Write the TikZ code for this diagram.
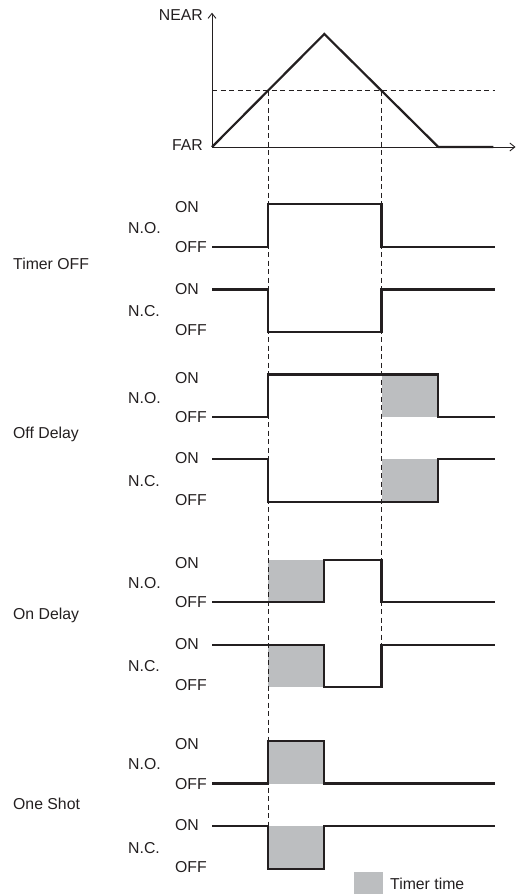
\documentclass[tikz,border=0pt]{standalone}
\usepackage{fontspec}
\setmainfont{Liberation Sans}
\usetikzlibrary{arrows.meta}
\definecolor{ink}{HTML}{231F20}
\definecolor{shadegray}{HTML}{BCBEC0}
\tikzset{
  lbl/.style={font=\fontsize{15.8}{18}\selectfont, text=ink, inner sep=0pt, anchor=base west},
  sig/.style={draw=ink, line width=2.2pt, line join=miter},
  axis/.style={draw=ink, line width=0.9pt},
  guide/.style={draw=ink, line width=0.9pt, dash pattern=on 5pt off 3.5pt},
  timerfill/.style={fill=shadegray, draw=none},
  arr/.style={-{Straight Barb[length=5pt,width=8pt]}}
}
% #1 a, #2 b, #3 c, #4 d (levels), #5 title, #6 prefix, #7 title centre y
\newcommand\mysect[7]{%
  \node[lbl] (#6-noon)  at (175,{#1+8.6}) {ON};
  \node[lbl] (#6-no)    at (128,{(#1+#2)/2+7.6}) {N.O.};
  \node[lbl] (#6-nooff) at (175,{#2+5.6}) {OFF};
  \node[lbl] (#6-ncon)  at (175,{#3+4.6}) {ON};
  \node[lbl] (#6-nc)    at (128,{(#3+#4)/2+5.6}) {N.C.};
  \node[lbl] (#6-ncoff) at (175,{#4+3.6}) {OFF};
  \node[lbl] (#6-title) at (13,{#7+5.6}) {#5};
}
\def\myxs{212}
\def\myxe{495}
\def\myta{268}
\def\mytb{324.3}
\def\mytc{381.5}
\def\mytd{438.3}
\begin{document}
\begin{tikzpicture}[x=1pt,y=-1pt]
\useasboundingbox (0,0) rectangle (516,894);

% ---------- top graph ----------
\coordinate (O) at (\myxs,147);
\coordinate (ytip) at (\myxs,12.7);
\coordinate (xtip) at (515.5,147);
\coordinate (peak) at (\mytb,34);
\coordinate (tend) at (\mytd,147);
\coordinate (fend) at (493.3,147);
\coordinate (thL) at (\myxs,90.7);
\coordinate (thR) at (\myxe,90.7);
\coordinate (c1) at (\myta,90.7);
\coordinate (c2) at (\mytc,90.7);
\coordinate (c1b) at (\myta,869);
\coordinate (c2b) at (\mytc,687);

\node[lbl, anchor=base east] (near) at (203,20.6) {NEAR};
\node[lbl, anchor=base east] (far) at (203,150.6) {FAR};

% shaded timer areas
\fill[timerfill] (\mytc,374.5) rectangle (\mytd,417);
\fill[timerfill] (\mytc,459) rectangle (\mytd,502);
\fill[timerfill] (\myta,560) rectangle (\mytb,602);
\fill[timerfill] (\myta,645) rectangle (\mytb,687);
\fill[timerfill] (\myta,741) rectangle (\mytb,783.5);
\fill[timerfill] (\myta,826) rectangle (\mytb,869);

% guides
\draw[guide] (thL) -- (thR);
\draw[guide] (c1) -- (c1b);
\draw[guide] (c2) -- (c2b);

% axes
\draw[axis, arr] (O) -- (ytip);
\draw[axis, arr] (O) -- (xtip);
\draw[sig] (O) -- (peak) -- (tend) -- (fend);

% ---------- Timer OFF ----------
\mysect{204}{247}{289.5}{332}{Timer OFF}{to}{264}
\draw[sig] (\myxs,247) -| (\myta,204) -| (\mytc,247) -- (\myxe,247);
\draw[sig] (\myxs,289.5) -| (\myta,332) -| (\mytc,289.5) -- (\myxe,289.5);

% ---------- Off Delay ----------
\mysect{374.5}{417}{459}{502}{Off Delay}{od}{433}
\draw[sig] (\myxs,417) -| (\myta,374.5) -| (\mytd,417) -- (\myxe,417);
\draw[sig] (\myxs,459) -| (\myta,502) -| (\mytd,459) -- (\myxe,459);

% ---------- On Delay ----------
\mysect{560}{602}{645}{687}{On Delay}{ond}{613.5}
\draw[sig] (\myxs,602) -| (\mytb,560) -| (\mytc,602) -- (\myxe,602);
\draw[sig] (\myxs,645) -| (\mytb,687) -| (\mytc,645) -- (\myxe,645);

% ---------- One Shot ----------
\mysect{741}{783.5}{826}{869}{One Shot}{os}{804}
\draw[sig] (\myxs,783.5) -| (\myta,741) -| (\mytb,783.5) -- (\myxe,783.5);
\draw[sig] (\myxs,826) -| (\myta,869) -| (\mytb,826) -- (\myxe,826);

% ---------- legend ----------
\node[timerfill, minimum width=29pt, minimum height=22pt, inner sep=0pt, anchor=north west] (legbox) at (354,872) {};
\node[lbl] (legtext) at (390,889.6) {Timer time};
\end{tikzpicture}
\end{document}
